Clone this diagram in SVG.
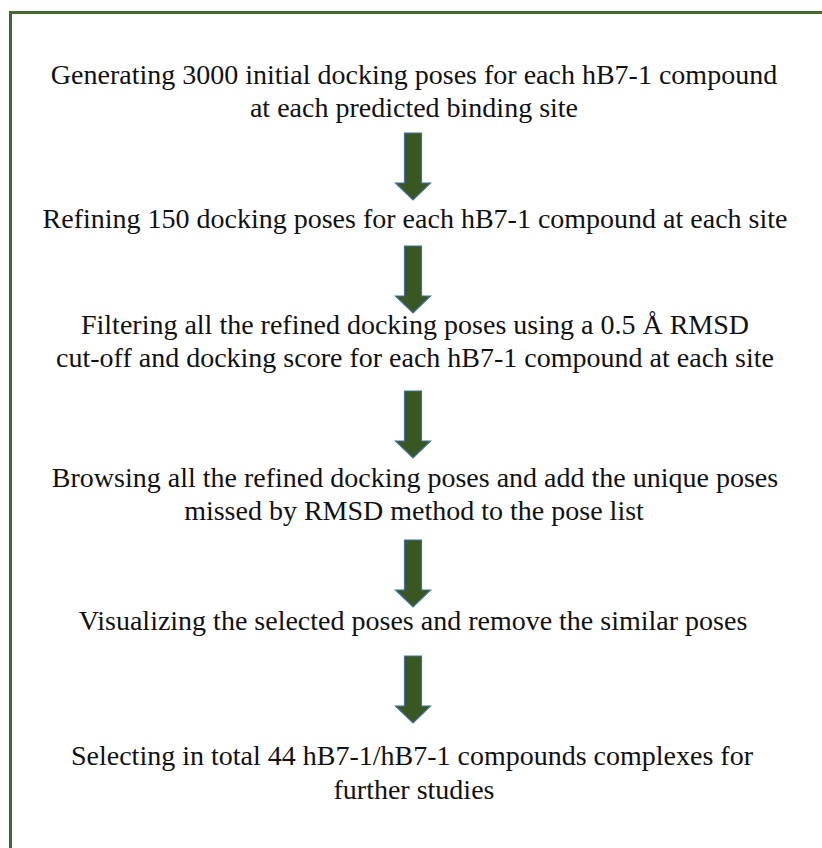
<svg xmlns="http://www.w3.org/2000/svg" width="822" height="848" viewBox="0 0 822 848">
<style>
text{font-family:'Liberation Serif','Times New Roman','Noto Serif','DejaVu Serif',serif;font-size:28px;fill:#111;text-anchor:middle}
.arr{fill:#385723;stroke:#41719C;stroke-width:1.2}
</style>
<defs>
<path id="ar" d="M-8.5,0 H8.5 V50 H17.5 L0,67 L-17.5,50 H-8.5 Z"/>
</defs>
<rect x="0" y="0" width="822" height="848" fill="#fff"/>
<rect id="frame" x="10.5" y="12.5" width="830" height="860" fill="none" stroke="#44682f" stroke-width="3"/>
<g id="node1"><text x="414" y="84">Generating 3000 initial docking poses for each hB7-1 compound</text><text x="414" y="117">at each predicted binding site</text></g>
<g id="node2"><text x="415" y="228">Refining 150 docking poses for each hB7-1 compound at each site</text></g>
<g id="node3"><text x="415" y="334">Filtering all the refined docking poses using a 0.5 Å RMSD</text><text x="415" y="367">cut-off and docking score for each hB7-1 compound at each site</text></g>
<g id="node4"><text x="415" y="487">Browsing all the refined docking poses and add the unique poses</text><text x="414" y="520">missed by RMSD method to the pose list</text></g>
<g id="node5"><text x="413" y="630">Visualizing the selected poses and remove the similar poses</text></g>
<g id="node6"><text x="412" y="765">Selecting in total 44 hB7-1/hB7-1 compounds complexes for</text><text x="414" y="799">further studies</text></g>
<g id="connectors">
<use href="#ar" class="arr" x="413" y="133"/>
<use href="#ar" class="arr" x="413" y="246"/>
<use href="#ar" class="arr" x="413" y="391"/>
<use href="#ar" class="arr" x="413" y="540"/>
<use href="#ar" class="arr" x="413" y="656"/>
</g>
</svg>
